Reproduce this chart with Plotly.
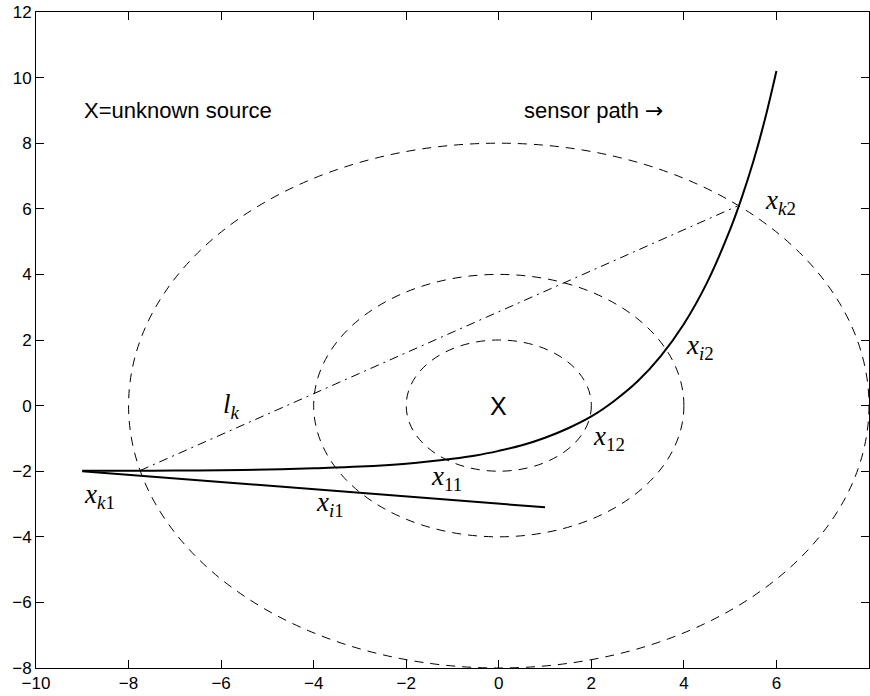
import plotly.graph_objects as go

# sensor path
path_x = [-9, -8, -7, -6, -5, -4, -3, -2, -1, -0.5, 0, 0.5, 1, 1.5, 2, 2.5, 3, 3.5,
          4, 4.5, 5, 5.25, 5.5, 5.75, 6]
path_y = [-1.99, -1.99, -1.98, -1.97, -1.95, -1.91, -1.86, -1.77, -1.62, -1.52, -1.38,
          -1.21, -0.98, -0.69, -0.33, 0.15, 0.74, 1.51, 2.49, 3.75, 5.37, 6.34, 7.44,
          8.72, 10.2]

# straight branch
branch_x = [-9, 1]
branch_y = [-2, -3.1]

# chord l_k
chord_x = [-7.75, 5.15]
chord_y = [-1.98, 6.08]

# range circles around the source
source = (0, 0)
radii = [2, 4, 8]

# text labels
label_text = ["X=unknown source",
              "sensor path <span style=\"font-family:DejaVu Sans\">\u2192</span>"]
label_x = [-9, 0.5]
label_y = [9, 9]

math_text = ["<i>x</i><sub><i>k</i>1</sub>", "<i>x</i><sub><i>i</i>1</sub>",
             "<i>x</i><sub>11</sub>", "<i>x</i><sub>12</sub>",
             "<i>x</i><sub><i>i</i>2</sub>", "<i>x</i><sub><i>k</i>2</sub>",
             "<i>l</i><sub><i>k</i></sub>"]
math_x = [-9, -4, -1.5, 2.0, 4.0, 5.7, -6.0]
math_y = [-2.75, -3.0, -2.2, -1.0, 1.8, 6.2, 0.0]

xticks = list(range(-10, 9, 2))
yticks = list(range(-8, 13, 2))

fig = go.Figure()
fig.add_trace(go.Scatter(x=path_x, y=path_y, mode="lines",
                         line=dict(color="black", width=2, shape="spline", smoothing=1.0),
                         hoverinfo="skip"))
fig.add_trace(go.Scatter(x=branch_x, y=branch_y, mode="lines",
                         line=dict(color="black", width=2), hoverinfo="skip"))
fig.add_trace(go.Scatter(x=chord_x, y=chord_y, mode="lines",
                         line=dict(color="black", width=1, dash="9px,5px,2px,5px"),
                         hoverinfo="skip"))

for r in radii:
    fig.add_shape(type="circle", xref="x", yref="y",
                  x0=source[0] - r, x1=source[0] + r, y0=source[1] - r, y1=source[1] + r,
                  line=dict(color="black", width=1, dash="9px,7px"), layer="below")

sans = "Liberation Sans, Arial, Helvetica, sans-serif"
serif = "Liberation Serif, Times New Roman, serif"

for t, x, y in zip(label_text, label_x, label_y):
    fig.add_annotation(x=x, y=y, text=t, showarrow=False, xanchor="left", yanchor="middle",
                       font=dict(family=sans, size=22, color="black"))

fig.add_annotation(x=source[0], y=source[1], text="X", showarrow=False,
                   xanchor="center", yanchor="middle",
                   font=dict(family=sans, size=25, color="black"))

for t, x, y in zip(math_text, math_x, math_y):
    fig.add_annotation(x=x, y=y, text=t, showarrow=False, xanchor="left", yanchor="middle",
                       font=dict(family=serif, size=27, color="black"))

axis_common = dict(showgrid=False, zeroline=False, showline=True, linecolor="black",
                   linewidth=1, mirror="ticks", ticks="inside", ticklen=8, tickwidth=1,
                   tickcolor="black", tickfont=dict(family=sans, size=17, color="black"))

fig.update_xaxes(range=[-10, 8], tickvals=xticks, **axis_common)
fig.update_yaxes(range=[-8, 12], tickvals=yticks, **axis_common)

fig.update_layout(width=870, height=696, margin=dict(l=36, r=1, t=12, b=28),
                  plot_bgcolor="white", paper_bgcolor="white", showlegend=False)

fig.write_html("out.html")
